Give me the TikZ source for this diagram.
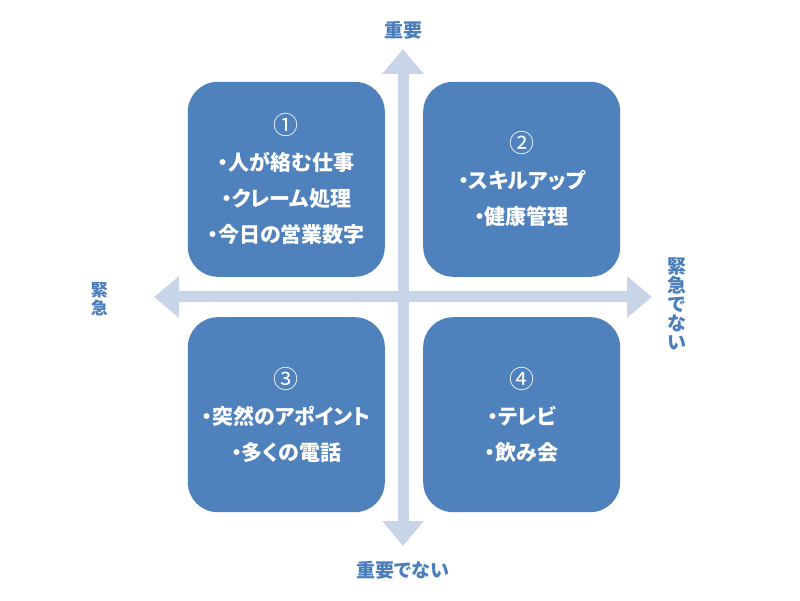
\documentclass[tikz,border=0pt]{standalone}
\usepackage{fontspec}
\setmainfont{Noto Sans CJK JP}[RawFeature=+palt]
\usetikzlibrary{positioning,arrows.meta}
\definecolor{boxblue}{HTML}{4F81BD}
\definecolor{axisblue}{HTML}{C8D5E9}
\definecolor{labelblue}{HTML}{4A7EBB}
\newcommand{\qnum}[1]{{\fontsize{25}{36}\selectfont\mdseries #1}}

\begin{document}
\begin{tikzpicture}[
        x=1pt, y=1pt,
        axis/.style={line width=11pt, axisblue,
          {Triangle[length=25pt,width=40pt]}-{Triangle[length=25pt,width=40pt]}},
        quad/.style={fill=boxblue, rounded corners=30pt, minimum width=197pt,
          minimum height=195pt, inner sep=0pt, text=white, align=center,
          font=\fontsize{21}{36}\selectfont\bfseries},
        axislabel/.style={text=labelblue, inner sep=0pt, align=center,
          font=\fontsize{19}{19}\selectfont\bfseries}
    ]
      \useasboundingbox (0,0) rectangle (800,600);

      % axes
      \coordinate (o) at (403,303);
      \coordinate (top) at (403,551);
      \coordinate (bottom) at (403,54);
      \coordinate (left) at (154,303);
      \coordinate (right) at (652,303);
      \draw[axis] (bottom) -- (top);
      \draw[axis] (left) -- (right);

      % quadrants
      \node[quad, above left=20pt and 18pt of o] (q1) {\qnum{①}\\・人が絡む仕事\\・クレーム処理\\・今日の営業数字};
      \node[quad, above right=20pt and 20pt of o] (q2) {\qnum{②}\\・スキルアップ\\・健康管理};
      \node[quad, below left=20pt and 18pt of o] (q3) {\qnum{③}\\・突然のアポイント\\・多くの電話};
      \node[quad, below right=20pt and 20pt of o] (q4) {\qnum{④}\\・テレビ\\・飲み会};

      % axis labels
      \node[axislabel, above=9pt of top] (imp) {重要};
      \node[axislabel, below=15pt of bottom] (notimp) {重要でない};
      \node[axislabel, left=46pt of left, yshift=-2pt, font=\fontsize{17}{18}\selectfont\bfseries] (urg) {緊\\急};
      \node[axislabel, right=15pt of right, yshift=-7pt] (noturg) {緊\\急\\で\\な\\い};
    \end{tikzpicture}
\end{document}
